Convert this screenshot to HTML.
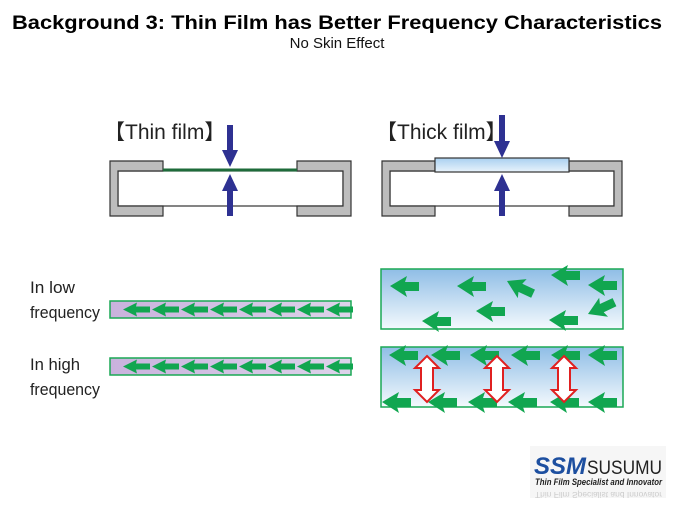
<!DOCTYPE html>
<html><head><meta charset="utf-8"><style>
html,body{margin:0;padding:0;background:#fff;width:675px;height:506px;overflow:hidden}
svg{display:block}
</style></head><body>
<svg width="675" height="506" viewBox="0 0 675 506" xmlns="http://www.w3.org/2000/svg">
<defs>
<linearGradient id="bl" x1="0" y1="0" x2="0" y2="1"><stop offset="0" stop-color="#8fbde6"/><stop offset="1" stop-color="#f4f9fd"/></linearGradient>
<linearGradient id="bl2" x1="0" y1="0" x2="0" y2="1"><stop offset="0" stop-color="#a9d0f0"/><stop offset="1" stop-color="#e8f3fb"/></linearGradient>
<linearGradient id="pu" x1="0" y1="0" x2="1" y2="0"><stop offset="0" stop-color="#c9b2dd"/><stop offset="1" stop-color="#ddd3ea"/></linearGradient>
<g id="sa"><path d="M0,0 L17,-10 L15,-4 L29,-4 L29,5 L15,5 L17,11 Z" fill="#11a650"/></g>
<g id="ta"><path d="M0,0 L14,-7 L13,-3 L27,-3 L27,3 L13,3 L14,7 Z" fill="#11a650"/></g>
<g id="da"><path d="M0,0 L12,12 L6,12 L6,34 L12,34 L0,46 L-12,34 L-6,34 L-6,12 L-12,12 Z" fill="#fff" stroke="#e02020" stroke-width="2"/></g>
</defs>
<text x="337" y="29" text-anchor="middle" font-family="Liberation Sans, sans-serif" font-weight="bold" font-size="19" textLength="650" lengthAdjust="spacingAndGlyphs">Background 3: Thin Film has Better Frequency Characteristics</text>
<text x="337" y="48" text-anchor="middle" font-family="Liberation Sans, sans-serif" font-size="15" fill="#111">No Skin Effect</text>

<text x="104" y="139" font-family="Liberation Sans, sans-serif" font-size="21" fill="#222">【Thin film】</text>
<rect x="118" y="171" width="225" height="35" fill="#fff" stroke="#333" stroke-width="1.2"/>
<path d="M163,161 H110 V216 H163 V206 H118 V171 H163 Z" fill="#bdbdbd" stroke="#333" stroke-width="1.2"/>
<path d="M297,161 H351 V216 H297 V206 H343 V171 H297 Z" fill="#bdbdbd" stroke="#333" stroke-width="1.2"/>
<rect x="163" y="168.5" width="134" height="3" fill="#1e6b3a"/>
<path d="M227,125 H233 V150 H238 L230,167 L222,150 H227 Z" fill="#2e3192"/>
<path d="M230,174 L238,191 H233 V216 H227 V191 H222 Z" fill="#2e3192"/>

<text x="376" y="139" font-family="Liberation Sans, sans-serif" font-size="21" fill="#222">【Thick film】</text>
<rect x="390" y="171" width="224" height="35" fill="#fff" stroke="#333" stroke-width="1.2"/>
<path d="M435,161 H382 V216 H435 V206 H390 V171 H435 Z" fill="#bdbdbd" stroke="#333" stroke-width="1.2"/>
<path d="M569,161 H622 V216 H569 V206 H614 V171 H569 Z" fill="#bdbdbd" stroke="#333" stroke-width="1.2"/>
<rect x="435" y="158" width="134" height="14" fill="url(#bl2)" stroke="#333" stroke-width="1.2"/>
<path d="M499,115 H505 V141 H510 L502,158 L494,141 H499 Z" fill="#2e3192"/>
<path d="M502,174 L510,191 H505 V216 H499 V191 H494 Z" fill="#2e3192"/>

<g font-family="Liberation Sans, sans-serif" font-size="17" fill="#222">
<text x="30" y="293" textLength="45" lengthAdjust="spacingAndGlyphs">In low</text><text x="30" y="318" textLength="70" lengthAdjust="spacingAndGlyphs">frequency</text>
<text x="30" y="370" textLength="50" lengthAdjust="spacingAndGlyphs">In high</text><text x="30" y="395" textLength="70" lengthAdjust="spacingAndGlyphs">frequency</text>
</g>

<rect x="110" y="301" width="241" height="17" fill="url(#pu)" stroke="#1aa855" stroke-width="1.5"/>
<rect x="110" y="358" width="241" height="17" fill="url(#pu)" stroke="#1aa855" stroke-width="1.5"/>
<g>
<use href="#ta" x="123" y="309.5"/><use href="#ta" x="152" y="309.5"/><use href="#ta" x="181" y="309.5"/><use href="#ta" x="210" y="309.5"/><use href="#ta" x="239" y="309.5"/><use href="#ta" x="268" y="309.5"/><use href="#ta" x="297" y="309.5"/><use href="#ta" x="326" y="309.5"/>
<use href="#ta" x="123" y="366.5"/><use href="#ta" x="152" y="366.5"/><use href="#ta" x="181" y="366.5"/><use href="#ta" x="210" y="366.5"/><use href="#ta" x="239" y="366.5"/><use href="#ta" x="268" y="366.5"/><use href="#ta" x="297" y="366.5"/><use href="#ta" x="326" y="366.5"/>
</g>

<rect x="381" y="269" width="242" height="60" fill="url(#bl)" stroke="#1aa855" stroke-width="1.5"/>
<rect x="381" y="347" width="242" height="60" fill="url(#bl)" stroke="#1aa855" stroke-width="1.5"/>
<use href="#sa" x="390" y="286"/>
<use href="#sa" x="457" y="286"/>
<use href="#sa" x="507" y="281" transform="rotate(25 507 281)"/>
<use href="#sa" x="551" y="275"/>
<use href="#sa" x="588" y="285"/>
<use href="#sa" x="422" y="321"/>
<use href="#sa" x="476" y="311"/>
<use href="#sa" x="549" y="320"/>
<use href="#sa" x="588" y="314" transform="rotate(-25 588 314)"/>
<use href="#sa" x="389" y="355"/><use href="#sa" x="431" y="355"/><use href="#sa" x="470" y="355"/><use href="#sa" x="511" y="355"/><use href="#sa" x="551" y="355"/><use href="#sa" x="588" y="355"/>
<use href="#sa" x="382" y="402"/><use href="#sa" x="428" y="402"/><use href="#sa" x="468" y="402"/><use href="#sa" x="508" y="402"/><use href="#sa" x="550" y="402"/><use href="#sa" x="588" y="402"/>
<use href="#da" x="427" y="356"/>
<use href="#da" x="497" y="356"/>
<use href="#da" x="564" y="356"/>

<rect x="530" y="446" width="136" height="52" fill="#f6f6f6"/>
<text x="534" y="474" font-family="Liberation Sans, sans-serif" font-weight="bold" font-style="italic" font-size="24" fill="#1d4fa0" textLength="52" lengthAdjust="spacingAndGlyphs">SSM</text>
<text x="587" y="474" font-family="Liberation Sans, sans-serif" font-size="19" fill="#222" textLength="75" lengthAdjust="spacingAndGlyphs">SUSUMU</text>
<text x="535" y="485" font-family="Liberation Sans, sans-serif" font-weight="bold" font-style="italic" font-size="9" fill="#222" textLength="127" lengthAdjust="spacingAndGlyphs">Thin Film Specialist and Innovator</text>
<text x="535" y="494" font-family="Liberation Sans, sans-serif" font-size="8" fill="#ccc" textLength="127" lengthAdjust="spacingAndGlyphs" transform="scale(1,-1) translate(0,-986)">Thin Film Specialist and Innovator</text>
</svg>
</body></html>
